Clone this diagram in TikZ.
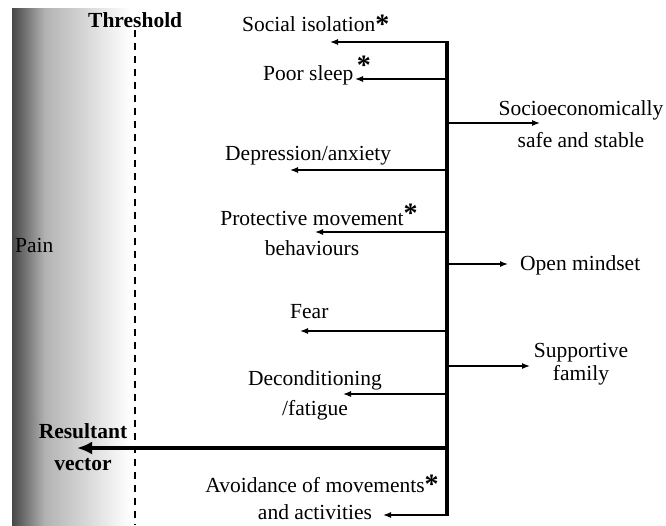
\documentclass[tikz,border=0pt]{standalone}
\usepackage{fontspec}
\setmainfont{Liberation Serif}
\usetikzlibrary{arrows.meta}
\newcommand{\astx}[1]{\rlap{\raisebox{#1}{\fontsize{28}{30}\selectfont\bfseries *}}}

\begin{document}
\begin{tikzpicture}[x=1pt, y=-1pt,
      every node/.style={font=\fontsize{21.5}{30}\selectfont, inner sep=0pt},
      lbl/.style={anchor=base west},
      bold/.style={font=\fontsize{21.5}{32}\selectfont\bfseries},
      pair/.style={align=center},
      arr/.style={-{Latex[length=8pt, width=6pt]}, line width=1.3pt},
      bigarr/.style={-{Latex[length=15pt, width=13pt]}, line width=4pt},
      spine/.style={line width=3.5pt},
      thrline/.style={dash pattern=on 7pt off 6pt, line width=1.6pt}]
    \useasboundingbox (0,0) rectangle (666,525);
    % pain side, fading out towards the threshold
    \shade[left color=black!72, right color=black!30] (12,8) rectangle (45,525);
    \shade[left color=black!30, right color=white] (45,8) rectangle (130,525);
    \node[lbl] (pain) at (15,252) {Pain};
    \node[lbl, bold] (thr) at (88,27) {Threshold};
    \coordinate (thr-end) at (135,525);
    \draw[thrline] ([yshift=-3pt]thr.south) -- (thr.south |- thr-end);
    % spine
    \coordinate (sp-top) at (447,41);
    \coordinate (sp-bot) at (447,516);
    \draw[spine] (sp-top) -- (sp-bot);
    % factors pulling towards pain
    \node[lbl] (soc) at (242,31) {Social isolation\astx{-2pt}};
    \node[lbl] (slp) at (263,80) {Poor sleep\,\astx{6pt}};
    \node[lbl] (dep) at (225,160) {Depression/anxiety};
    \node[pair] (prot) at (312,230) {Protective movement\astx{3pt}\\behaviours};
    \node[lbl] (fear) at (290,318) {Fear};
    \node[pair] (decon) at (315,395) {Deconditioning\\/fatigue};
    \node[pair] (avoid) at (315,497) {Avoidance of movements\astx{-1pt}\\[-3pt]and activities};
    \coordinate (soc-s) at (447,42);   \coordinate (soc-e) at (330,42);
    \coordinate (slp-s) at (447,79);   \coordinate (slp-e) at (355,79);
    \coordinate (dep-s) at (447,170);  \coordinate (dep-e) at (290,170);
    \coordinate (prot-s) at (447,232); \coordinate (prot-e) at (315,232);
    \coordinate (fear-s) at (447,331); \coordinate (fear-e) at (300,331);
    \coordinate (decon-s) at (447,394); \coordinate (decon-e) at (343,394);
    \coordinate (avoid-s) at (447,515); \coordinate (avoid-e) at (383,515);
    \draw[arr] (soc-s) -- (soc-e);
    \draw[arr] (slp-s) -- (slp-e);
    \draw[arr] (dep-s) -- (dep-e);
    \draw[arr] (prot-s) -- (prot-e);
    \draw[arr] (fear-s) -- (fear-e);
    \draw[arr] (decon-s) -- (decon-e);
    \draw[arr] (avoid-s) -- (avoid-e);
    % factors pulling away
    \node[pair] (ses) at (581,124) {Socioeconomically\\[2pt]safe and stable};
    \node[lbl] (open) at (520,270) {Open mindset};
    \node[pair] (fam) at (581,364) {Supportive\\[-7pt]family};
    \coordinate (ses-s) at (447,123);  \coordinate (ses-e) at (540,123);
    \coordinate (open-s) at (447,264); \coordinate (open-e) at (508,264);
    \coordinate (fam-s) at (447,366);  \coordinate (fam-e) at (530,366);
    \draw[arr] (ses-s) -- (ses-e);
    \draw[arr] (open-s) -- (open-e);
    \draw[arr] (fam-s) -- (fam-e);
    % resultant
    \node[pair, bold] (res) at (83,447) {Resultant\\vector};
    \coordinate (res-s) at (447,448);  \coordinate (res-e) at (77,448);
    \draw[bigarr] (res-s) -- (res-e);
  \end{tikzpicture}
\end{document}
